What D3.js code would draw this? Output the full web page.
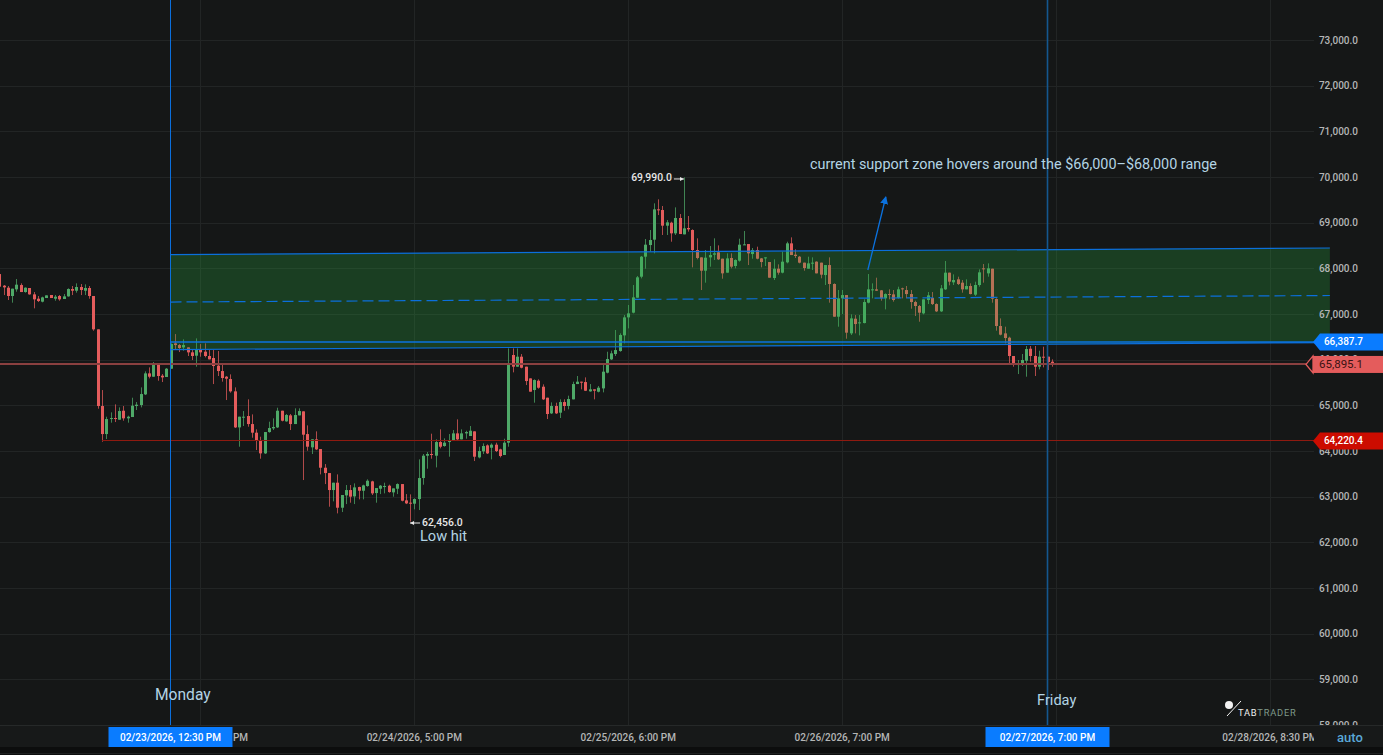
<!DOCTYPE html>
<html>
<head>
<meta charset="utf-8">
<script src="https://cdn.jsdelivr.net/npm/d3@7"></script>
<style>
html, body { margin: 0; padding: 0; background: #151717; overflow: hidden; }
svg { display: block; font-family: Roboto, sans-serif; }
</style>
</head>
<body>
<div id="chart"></div>
<script>
// 30 minute candles, first one is 02/22/2026 4:30 PM
var opens = [67875,67620,67576,67394,67540,67634,67481,67569,67430,67335,
67270,67350,67416,67335,67394,67328,67386,67547,67510,67591,
67510,67569,67394,66664,64985,64371,64700,64722,64685,64882,
64715,64744,64985,65007,65240,65700,65627,65897,65649,65620,
65802,66357,66320,66269,66269,66160,66087,66226,66175,66080,
66036,65868,65751,65627,65576,65306,64517,64736,64766,64590,
64401,64240,63948,64415,64496,64517,64882,64649,64780,64590,
64780,64868,64371,64080,64255,64043,63634,63517,63145,63306,
62758,63028,63145,63006,63211,63130,63233,63335,63079,63174,
63218,63240,63094,63174,63276,62919,62868,62846,62948,63408,
63897,63934,63897,64196,64109,64196,64240,64386,64255,64386,
64328,64430,63860,63992,64123,64072,64138,64036,63912,64182,
66102,65846,66065,65846,65590,65335,65539,65408,65167,64824,
64985,64839,65072,64985,65131,65466,65518,65510,65306,65350,
65298,65371,65715,66007,66123,66189,66532,66926,67029,67357,
67817,68255,68510,68627,69292,69277,68934,68999,68766,69102,
68744,68883,68839,68401,68240,67948,68240,68299,68350,68211,
67905,68226,68051,68167,68510,68532,68313,68401,68218,68226,
68138,67788,67992,67905,68131,68547,68299,68255,68124,67992,
68109,68146,68124,67853,68072,67657,66941,67343,67415,66576,
66897,66795,66802,67248,67525,67540,67518,67343,67437,67430,
67350,67562,67525,67437,67262,67175,67014,67306,67350,67218,
67058,67540,67905,67693,67759,67686,67540,67613,67423,67635,
68000,67890,67992,67328,66737,66576,66481,66080,65883,65883,
65977,66240,66080,65846,66065,66065,65955];
var highs = [67875,67635,67613,67554,67766,67671,67583,67569,67481,67394,
67379,67408,67416,67416,67416,67437,67562,67613,67671,67656,
67649,67613,67394,66664,65335,64751,64846,65021,64955,64985,
64773,65167,65072,65393,65744,65831,65948,65897,65685,65817,
66357,66561,66342,66445,66269,66211,66466,66342,66357,66211,
66211,66189,65883,65642,65678,65393,64751,64875,65131,64802,
64474,64313,64415,64642,64715,64948,64882,64810,64810,64934,
64934,64868,64561,64255,64430,64043,63714,63517,63306,63488,
63036,63255,63255,63291,63218,63262,63379,63349,63189,63255,
63306,63262,63181,63291,63276,63057,63050,62963,63817,63934,
63977,64379,64255,64474,64277,64371,64459,64693,64474,64444,
64547,64430,64094,64167,64145,64167,64182,64050,64269,66247,
66247,66247,66123,65846,65590,65569,65569,65459,65167,65065,
65058,65131,65131,65211,65518,65642,65518,65612,65466,65350,
65423,65919,66174,66197,66649,66576,66977,67197,67634,67832,
68270,68642,68839,69423,69511,69365,69058,69021,69335,69189,
69990,69146,68854,68657,68240,68401,68489,68657,68503,68211,
68328,68328,68197,68649,68817,68532,68445,68474,68226,68240,
68138,68197,68087,68365,68583,68678,68416,68270,68124,68255,
68240,68153,68124,68072,68240,67671,67525,67525,67415,66992,
66977,66977,67321,67875,67671,67795,67525,67452,67540,67525,
67598,67576,67613,67525,67291,67197,67321,67481,67481,67233,
67634,68160,67905,67868,67817,67744,67759,67671,67708,67977,
68094,68109,67992,67343,66904,66722,66503,66080,65992,66124,
66299,66299,66299,66196,66284,66065,66007];
var lows = [67598,67415,67306,67248,67488,67481,67467,67423,67124,67262,
67255,67350,67350,67291,67291,67328,67379,67415,67467,67415,
67415,67335,66634,64926,64203,64262,64620,64634,64685,64663,
64620,64744,64897,64955,65225,65590,65627,65539,65510,65620,
65802,66233,66167,66196,66080,65992,65846,66065,66050,66007,
65466,65642,65518,65116,65277,64503,64094,64547,64532,64291,
64021,63831,63934,64401,64459,64503,64649,64642,64459,64590,
64780,63364,64006,63934,64021,63488,63276,62780,62897,62634,
62663,62838,62868,62838,62941,62941,63218,63036,62868,63057,
63072,63087,62999,63057,62897,62838,62456,62722,62707,63262,
63612,63831,63641,64058,64094,63875,64240,64218,64255,64269,
64328,63780,63839,63934,63934,63817,63977,63860,63912,64094,
65722,65846,65810,65444,65299,65058,65364,65116,64700,64810,
64810,64722,64882,64912,65131,65466,65350,65313,65298,65131,
65284,65284,65700,65992,66080,66174,66357,66685,67014,67357,
67780,67992,68365,68328,69167,68730,68730,68583,68730,68751,
68744,68803,68021,68197,67525,67686,68036,68182,68182,67773,
67905,68000,68000,68146,68510,68072,68211,68197,68021,68051,
67795,67744,67861,67890,68109,68291,68226,68109,67948,67992,
67963,67890,67781,67635,67248,66941,66722,67000,66459,66540,
66576,66532,66795,67233,67343,67503,67291,67101,67321,67270,
67335,67343,67343,67116,66956,66831,66992,67218,67197,67043,
67043,67525,67627,67635,67635,67467,67540,67430,67393,67598,
67686,67817,67248,66635,66532,66357,65890,65846,65685,65861,
65627,65955,65642,65787,65831,65773,65846];
var closes = [67598,67583,67394,67554,67642,67481,67576,67430,67321,67284,
67364,67408,67350,67379,67321,67386,67547,67510,67591,67525,
67569,67394,66664,64985,64371,64700,64722,64700,64875,64715,
64751,64992,65014,65247,65700,65627,65897,65642,65612,65802,
66342,66320,66255,66320,66160,66080,66211,66160,66080,66007,
65861,65751,65598,65583,65306,64517,64751,64751,64590,64401,
64225,63948,64415,64503,64525,64882,64663,64788,64590,64788,
64875,64357,64094,64255,64036,63634,63517,63145,63306,62758,
63036,63145,63000,63203,63130,63247,63349,63072,63189,63240,
63233,63101,63181,63276,62911,62853,62853,62948,63408,63897,
63934,63912,64196,64094,64182,64226,64386,64255,64386,64415,
64444,63875,63999,64109,63948,64138,63999,63890,64182,65904,
65846,66065,65824,65532,65299,65554,65386,65131,64810,64985,
64824,65072,64985,65138,65466,65518,65496,65320,65350,65320,
65386,65737,66014,66138,66211,66540,66926,67014,67364,67803,
68255,68518,68620,69292,69284,68934,69007,68766,69102,68751,
68875,68854,68401,68226,67948,68233,68291,68328,68197,67890,
68218,68036,68182,68518,68525,68328,68401,68211,68138,68240,
67795,67992,67905,68146,68547,68291,68270,68124,68007,68109,
68124,67890,67861,68072,67657,66941,67343,67415,66591,66904,
66780,66817,67262,67540,67540,67510,67343,67437,67423,67306,
67540,67540,67437,67262,67175,67029,67321,67408,67218,67058,
67562,67905,67708,67744,67656,67540,67613,67437,67635,67912,
67985,68000,67335,66737,66547,66474,66080,65883,65904,65992,
66233,66080,65846,66065,66050,65948,65895];

var priceTicks = [58000,59000,60000,61000,62000,63000,64000,65000,66000,67000,68000,69000,70000,71000,72000,73000];

// grid positions on the time axis and the text the app printed for them
var timeTickDates = [new Date(2026,1,23,16,0), new Date(2026,1,24,17,0), new Date(2026,1,25,18,0), new Date(2026,1,26,19,0), new Date(2026,1,27,20,0), new Date(2026,1,28,21,0)];
var timeTickLabels = ["02/23/2026, 4:00 PM","02/24/2026, 5:00 PM","02/25/2026, 6:00 PM","02/26/2026, 7:00 PM","","02/28/2026, 8:30 PM"];

var firstTime = new Date(2026,1,22,16,30);
var mondayTime = new Date(2026,1,23,12,30);
var fridayTime = new Date(2026,1,27,19,0);
var channelEnd = new Date(2026,2,1,4,0);

// parallel channel drawn on the chart, prices at both ends
var channelTop = [68302,68445];
var channelMid = [67262,67405];
var channelBottom = [66222,66375];

var bluePrice = 66387.7;
var lastPrice = 65895.1;
var redPrice = 64220.4;
var highPrice = 69990.0;
var lowPrice = 62456.0;

var width = 1383, height = 755;
var plotRight = 1314;

var x = d3.scaleTime().domain([mondayTime, fridayTime]).range([170.5, 1047.5]);
var y = d3.scaleLinear().domain([58000, 73000]).range([725, 40]);
var fmt = d3.format(",.1f");

var candles = opens.map(function(o, i) {
    return {
        t: new Date(firstTime.getTime() + i * 1800000),
        o: o, h: highs[i], l: lows[i], c: closes[i]
    };
});

var svg = d3.select("#chart").append("svg").attr("width", width).attr("height", height);

svg.append("rect").attr("width", width).attr("height", height).attr("fill", "#151717");

//GRID
svg.selectAll(".hgrid").data(priceTicks).enter().append("line")
    .attr("x1", 0).attr("x2", plotRight)
    .attr("y1", function(d) { return Math.round(y(d)) + 0.5; })
    .attr("y2", function(d) { return Math.round(y(d)) + 0.5; })
    .attr("stroke", "#222525");

svg.selectAll(".vgrid").data(timeTickDates).enter().append("line")
    .attr("x1", function(d) { return Math.round(x(d)) + 0.5; })
    .attr("x2", function(d) { return Math.round(x(d)) + 0.5; })
    .attr("y1", 0).attr("y2", 726)
    .attr("stroke", "#222525");

//CANDLES
var green = "#4fa968", red = "#e45c5c";
function candleColor(d) { return d.c >= d.o ? green : red; }
function cx(d) { return Math.round(x(d.t)); }

var candle = svg.append("g").selectAll("g").data(candles).enter().append("g");

candle.append("line")
    .attr("x1", function(d) { return cx(d) + 0.5; })
    .attr("x2", function(d) { return cx(d) + 0.5; })
    .attr("y1", function(d) { return y(d.h); })
    .attr("y2", function(d) { return y(d.l); })
    .attr("stroke", candleColor)
    .attr("stroke-opacity", 0.75);

candle.append("rect")
    .attr("x", function(d) { return cx(d) - 1; })
    .attr("width", 3)
    .attr("y", function(d) { return y(Math.max(d.o, d.c)); })
    .attr("height", function(d) { return Math.max(1, Math.abs(y(d.o) - y(d.c))); })
    .attr("fill", candleColor);

//CHANNEL
var channelLine = d3.line().x(function(d) { return x(d[0]); }).y(function(d) { return y(d[1]); });
function ends(p) { return [[mondayTime, p[0]], [channelEnd, p[1]]]; }

svg.append("path")
    .attr("d", channelLine(ends(channelTop).concat(ends(channelBottom).reverse())) + "Z")
    .attr("fill", "rgba(44,173,65,0.26)");

svg.append("path").attr("d", channelLine(ends(channelTop))).attr("fill", "none").attr("stroke", "#0b6fdc").attr("stroke-width", 1.2);
svg.append("path").attr("d", channelLine(ends(channelBottom))).attr("fill", "none").attr("stroke", "#0b6fdc").attr("stroke-width", 1.2);
svg.append("path").attr("d", channelLine(ends(channelMid))).attr("fill", "none").attr("stroke", "#0b6fdc").attr("stroke-width", 1.2).attr("stroke-dasharray", "11,5");

// price lines
svg.append("line").attr("x1", x(mondayTime)).attr("x2", plotRight)
    .attr("y1", y(bluePrice)).attr("y2", y(bluePrice))
    .attr("stroke", "#0b72e0").attr("stroke-width", 1.4);
svg.append("line").attr("x1", x(candles[24].t)).attr("x2", plotRight)
    .attr("y1", Math.floor(y(redPrice)) + 0.5).attr("y2", Math.floor(y(redPrice)) + 0.5)
    .attr("stroke", "#8f1a10");
svg.append("line").attr("x1", 0).attr("x2", 1307)
    .attr("y1", Math.round(y(lastPrice))).attr("y2", Math.round(y(lastPrice)))
    .attr("stroke", "#8a4040").attr("stroke-width", 2);

// monday and friday markers
svg.append("line").attr("x1", x(mondayTime)).attr("x2", x(mondayTime)).attr("y1", 0).attr("y2", 727)
    .attr("stroke", "#0b6fdc").attr("stroke-width", 1);
svg.append("line").attr("x1", x(fridayTime)).attr("x2", x(fridayTime)).attr("y1", 0).attr("y2", 727)
    .attr("stroke", "#14578f").attr("stroke-width", 1.6);

//ARROW
var arrowFrom = [new Date(2026,1,26,22,0), 67963];
var arrowTo = [new Date(2026,1,27,0,6), 69562];
var defs = svg.append("defs");
defs.append("marker").attr("id", "head")
    .attr("viewBox", "0 0 8 8").attr("refX", 7).attr("refY", 4)
    .attr("markerWidth", 8).attr("markerHeight", 8).attr("markerUnits", "userSpaceOnUse").attr("orient", "auto")
    .append("path").attr("d", "M0,0L8,4L0,8Z").attr("fill", "#0b72e0");
defs.append("marker").attr("id", "tip")
    .attr("viewBox", "0 0 4 4").attr("refX", 4).attr("refY", 2)
    .attr("markerWidth", 4).attr("markerHeight", 4).attr("markerUnits", "userSpaceOnUse").attr("orient", "auto")
    .append("path").attr("d", "M0,0L4,2L0,4Z").attr("fill", "#e8e8e8");
svg.append("line")
    .attr("x1", x(arrowFrom[0])).attr("y1", y(arrowFrom[1]))
    .attr("x2", x(arrowTo[0])).attr("y2", y(arrowTo[1]))
    .attr("stroke", "#0b72e0").attr("stroke-width", 1.3)
    .attr("marker-end", "url(#head)");

//HIGH LOW MARKS
var highTime = candles[160].t, lowTime = candles[96].t;
svg.append("text").attr("x", x(highTime) - 12).attr("y", y(highPrice) + 4)
    .attr("text-anchor", "end").attr("fill", "#e8e8e8").attr("font-size", 10.4).attr("font-weight", 500)
    .text(fmt(highPrice));
svg.append("line").attr("x1", x(highTime) - 10).attr("x2", x(highTime)).attr("y1", y(highPrice) + 1.5).attr("y2", y(highPrice) + 1.5)
    .attr("stroke", "#e8e8e8").attr("marker-end", "url(#tip)");
svg.append("text").attr("x", x(lowTime) + 12).attr("y", y(lowPrice) + 4)
    .attr("fill", "#e8e8e8").attr("font-size", 10.4).attr("font-weight", 500)
    .text(fmt(lowPrice));
svg.append("line").attr("x1", x(lowTime) + 10).attr("x2", x(lowTime)).attr("y1", y(lowPrice) + 1.5).attr("y2", y(lowPrice) + 1.5)
    .attr("stroke", "#e8e8e8").attr("marker-end", "url(#tip)");

//NOTES
var noteColor = "#b3d4e4";
function note(txt, px, py, size) {
    svg.append("text").attr("x", px).attr("y", py).attr("fill", noteColor)
        .attr("font-size", size).text(txt);
}
note("current support zone hovers around the $66,000\u2013$68,000 range", 810, 169, 14.4);
note("Low hit", 420, 541, 14.6);
note("Monday", 155, 700, 15.6);
note("Friday", 1037, 705, 14.6);

//PRICE AXIS
svg.selectAll(".plabel").data(priceTicks).enter().append("text")
    .attr("x", 1358).attr("y", function(d) { return y(d) + 3.5; })
    .attr("text-anchor", "end").attr("fill", "#b4b6b6")
    .attr("font-size", 10).attr("font-weight", 500)
    .text(function(d) { return fmt(d); });

// price tags
function tag(price, fill, textFill) {
    var py = y(price);
    svg.append("path")
        .attr("d", "M1313," + py + "L1320," + (py - 8.5) + "L1383," + (py - 8.5) + "L1383," + (py + 8.5) + "L1320," + (py + 8.5) + "Z")
        .attr("fill", fill);
    svg.append("text").attr("x", 1363).attr("y", py + 3.5).attr("text-anchor", "end")
        .attr("fill", textFill).attr("font-size", 10).attr("font-weight", 500)
        .text(fmt(price));
}
tag(bluePrice, "#0a7cff", "#ffffff");
tag(redPrice, "#cc0c00", "#ffffff");

var ly = y(lastPrice);
svg.append("path")
    .attr("d", "M1313," + (ly - 8.5) + "L1306," + ly + "L1313," + (ly + 8.5) + "Z")
    .attr("fill", "#151717").attr("stroke", "#e45c5c").attr("stroke-width", 1.3);
svg.append("rect").attr("x", 1313).attr("y", ly - 8.5).attr("width", 70).attr("height", 17).attr("fill", "#e45c5c");
svg.append("text").attr("x", 1319).attr("y", ly + 4).attr("fill", "#3a1212")
    .attr("font-size", 11.5).text(fmt(lastPrice));

//TIME AXIS
svg.append("rect").attr("x", 0).attr("y", 726).attr("width", width).attr("height", 21).attr("fill", "#171919");
svg.append("line").attr("x1", 0).attr("x2", width).attr("y1", 725.5).attr("y2", 725.5).attr("stroke", "#262929");
svg.append("rect").attr("x", 0).attr("y", 747).attr("width", width).attr("height", 8).attr("fill", "#0c0d0d");
svg.append("line").attr("x1", 0).attr("x2", width).attr("y1", 753.5).attr("y2", 753.5).attr("stroke", "#1d1f1f");

defs.append("clipPath").attr("id", "timeclip")
    .append("rect").attr("x", 0).attr("y", 726).attr("width", plotRight).attr("height", 21);

svg.append("g").attr("clip-path", "url(#timeclip)")
    .selectAll("text").data(timeTickDates).enter().append("text")
    .attr("x", function(d) { return x(d); }).attr("y", 741)
    .attr("text-anchor", "middle").attr("fill", "#b4b6b6")
    .attr("font-size", 10).attr("font-weight", 500)
    .text(function(d, i) { return timeTickLabels[i]; });

function dateBox(t, label) {
    svg.append("rect").attr("x", x(t) - 62).attr("y", 727).attr("width", 124).attr("height", 20).attr("fill", "#0a7cff");
    svg.append("text").attr("x", x(t)).attr("y", 741).attr("text-anchor", "middle")
        .attr("fill", "#ffffff").attr("font-size", 10).attr("font-weight", 500).text(label);
}
dateBox(mondayTime, "02/23/2026, 12:30 PM");
dateBox(fridayTime, "02/27/2026, 7:00 PM");

svg.append("text").attr("x", 1337).attr("y", 742).attr("fill", "#5aa8d8")
    .attr("font-size", 13).attr("font-weight", 500).text("auto");

//LOGO
svg.append("circle").attr("cx", 1229).attr("cy", 705).attr("r", 4).attr("fill", "#f2f2f2");
svg.append("line").attr("x1", 1227).attr("y1", 716).attr("x2", 1241).attr("y2", 701).attr("stroke", "#f2f2f2").attr("stroke-width", 1);
var logo = svg.append("text").attr("x", 1238).attr("y", 715.5).attr("font-size", 9.3).attr("letter-spacing", 0.8);
logo.append("tspan").attr("fill", "#f0f0f0").text("TAB");
logo.append("tspan").attr("fill", "#7f9a8a").text("TRADER");
</script>
</body>
</html>
